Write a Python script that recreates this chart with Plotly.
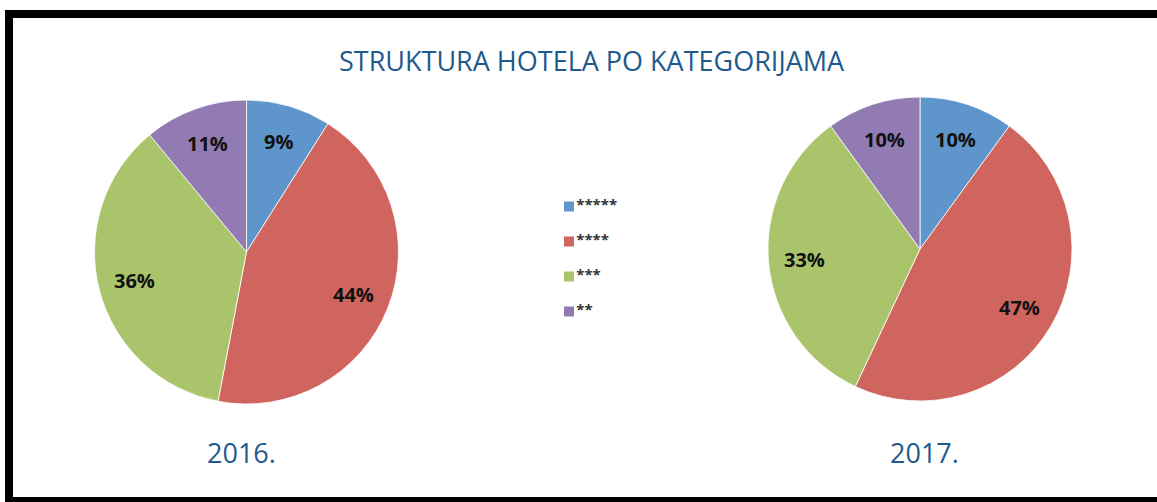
import math
import plotly.graph_objects as go

categories = ["*****", "****", "***", "**"]
values_2016 = [9, 44, 36, 11]
values_2017 = [10, 47, 33, 10]
years = ["2016.", "2017."]
title_text = "STRUKTURA HOTELA PO KATEGORIJAMA"
colors = ["#5E95CA", "#CF655E", "#AAC46B", "#927AB3"]
legend_rank = [4, 3, 2, 1]

W, H = 1157, 502
R = 152
pies = [(values_2016, (246.5, 252), (241.5, 452), years[0]),
        (values_2017, (920, 249), (924, 452), years[1])]

def dom(cx, cy, r):
    return dict(x=[(cx - r) / W, (cx + r) / W], y=[(H - cy - r) / H, (H - cy + r) / H])

fig = go.Figure()
annotations = [dict(text=title_text, x=591.5 / W, y=(H - 60) / H, xref="paper", yref="paper",
                    showarrow=False, xanchor="center", yanchor="middle",
                    font=dict(family="Open Sans", size=27, color="#1F5A8E"))]

for vals, (cx, cy), (lx, ly), yr in pies:
    fig.add_trace(go.Pie(
        labels=categories, values=vals, sort=False, direction="clockwise", rotation=0,
        marker=dict(colors=colors, line=dict(color="white", width=0.8)),
        textinfo="none", domain=dom(cx, cy, R), showlegend=False, hoverinfo="label+value",
    ))
    total = sum(vals)
    cum = 0
    for v in vals:
        mid = (cum + v / 2) / total * 2 * math.pi
        cum += v
        px = cx + 0.76 * R * math.sin(mid)
        py = cy - 0.76 * R * math.cos(mid)
        annotations.append(dict(text=f"{v}%", x=px / W, y=(H - py) / H, xref="paper", yref="paper",
                                showarrow=False, xanchor="center", yanchor="middle",
                                font=dict(family="Open Sans", size=20, color="#111111", weight="bold")))
    annotations.append(dict(text=yr, x=lx / W, y=(H - ly) / H, xref="paper", yref="paper",
                            showarrow=False, xanchor="center", yanchor="middle",
                            font=dict(family="Open Sans", size=27, color="#1F5A8E")))

# legend drawn as a marker+text series on hidden axes
fig.add_trace(go.Scatter(
    x=[0.5] * len(categories), y=legend_rank, mode="markers+text",
    marker=dict(symbol="square", size=10, color=colors),
    text=categories, textposition="middle right",
    textfont=dict(family="Open Sans", size=15, color="#333333", weight="bold"),
    showlegend=False, hoverinfo="skip", cliponaxis=False,
))

y_unit = (311.5 - 206.5) / 3
fig.update_layout(
    width=W, height=H, margin=dict(l=0, r=0, t=0, b=0),
    paper_bgcolor="white", plot_bgcolor="rgba(0,0,0,0)",
    xaxis=dict(visible=False, range=[0, 10], domain=[564 / W, 664 / W], fixedrange=True),
    yaxis=dict(visible=False, range=[0.5, 4.5],
               domain=[(H - 311.5 - y_unit / 2) / H, (H - 206.5 + y_unit / 2) / H], fixedrange=True),
    annotations=annotations,
    shapes=[
        dict(type="rect", xref="paper", yref="paper", x0=5 / W, x1=1, y0=(H - 18) / H, y1=(H - 10) / H,
             fillcolor="black", line=dict(width=0), layer="above"),
        dict(type="rect", xref="paper", yref="paper", x0=5 / W, x1=13 / W, y0=0, y1=(H - 10) / H,
             fillcolor="black", line=dict(width=0), layer="above"),
        dict(type="rect", xref="paper", yref="paper", x0=5 / W, x1=1, y0=0, y1=5 / H,
             fillcolor="black", line=dict(width=0), layer="above"),
    ],
)

fig.write_html("out.html", config={"displayModeBar": False},
               post_script="document.body.style.margin='0px';document.body.style.overflow='hidden';")
